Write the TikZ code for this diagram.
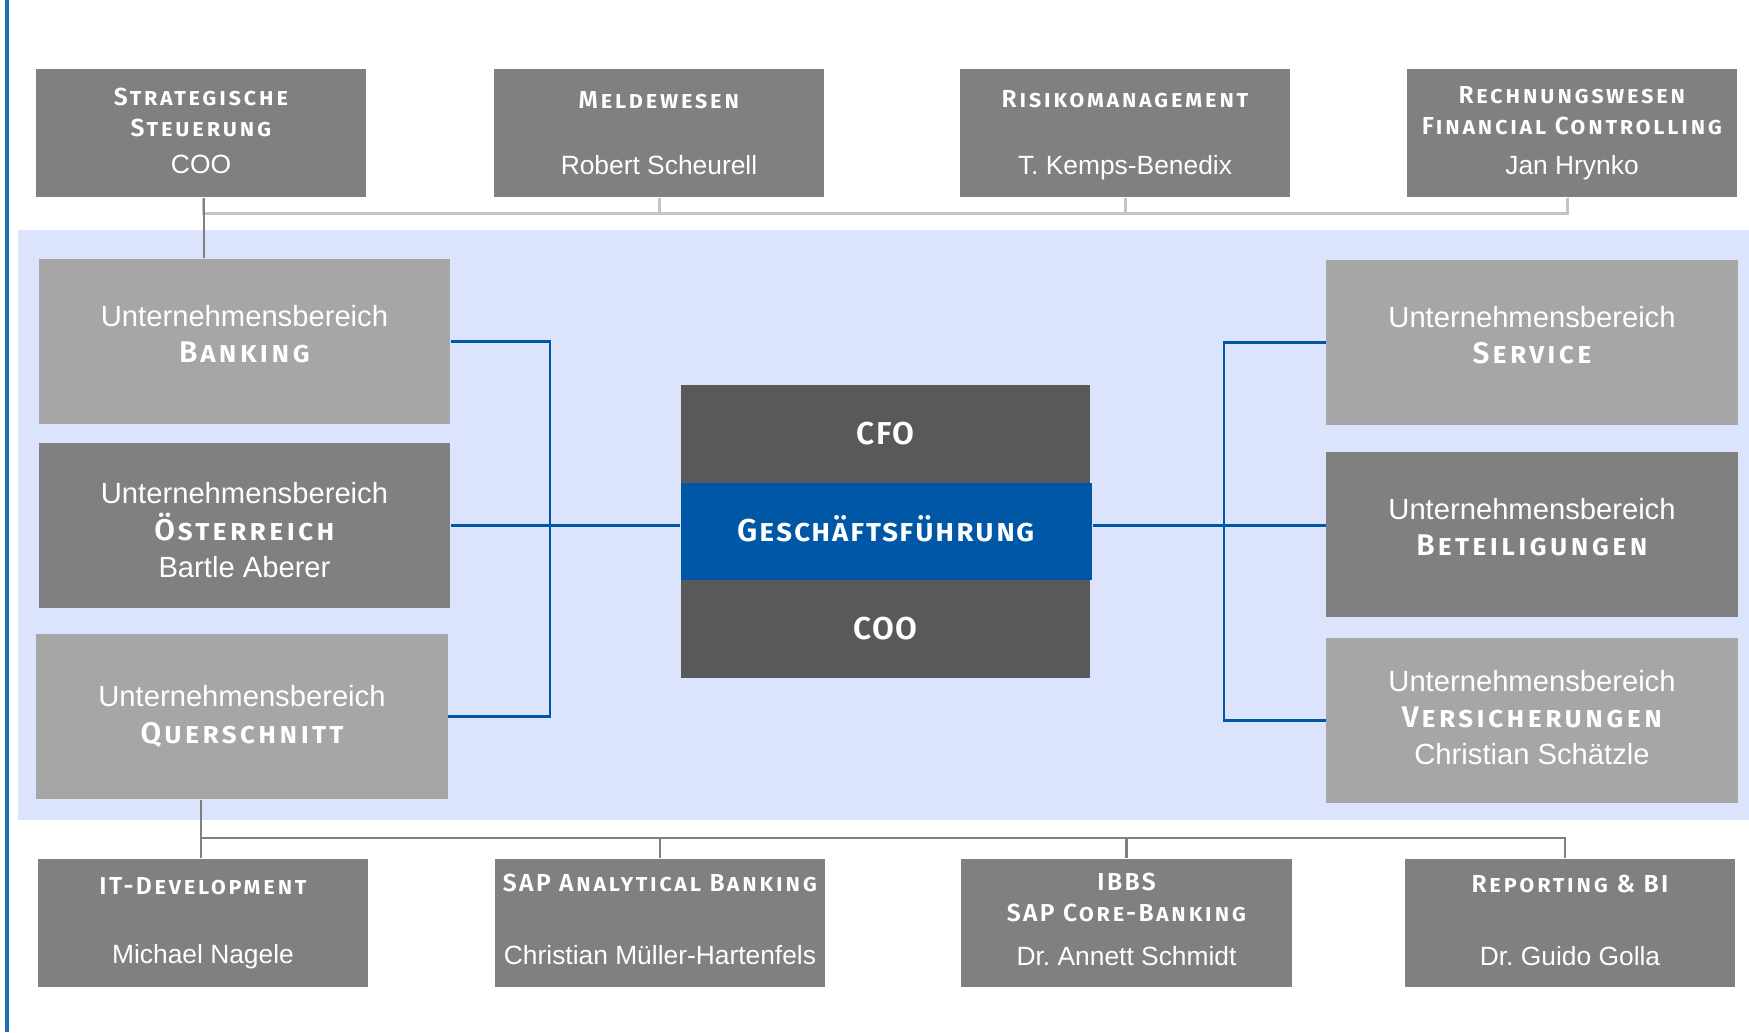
\documentclass[tikz,border=0pt]{standalone}
\usepackage{fontspec}
\setmainfont{Liberation Sans}
\newfontfamily\headfont[Letters=SmallCaps, LetterSpace=10, BoldFont={Fira Sans SemiBold}]{Fira Sans}
\newfontfamily\leadfont[Letters=SmallCaps, LetterSpace=5, BoldFont={Fira Sans SemiBold}]{Fira Sans}
\usepackage{xcolor}
\usetikzlibrary{calc}
\frenchspacing

\definecolor{boxgray}{HTML}{808080}
\definecolor{unitgray}{HTML}{A6A6A6}
\definecolor{leadgray}{HTML}{595959}
\definecolor{leadblue}{HTML}{0057A6}
\definecolor{areablue}{HTML}{DCE3FC}
\definecolor{staffgray}{HTML}{C3C3C3}
\definecolor{itgray}{HTML}{7F7F7F}
\definecolor{barblue}{HTML}{1F6DB4}

\newcommand{\tophead}[1]{{\headfont\bfseries\fontsize{7}{8}\selectfont #1}}
\newcommand{\unithead}[1]{{\headfont\bfseries\fontsize{8.5}{9}\selectfont #1}}
\newcommand{\leadhead}[1]{{\leadfont\bfseries\fontsize{9}{10}\selectfont #1}}
% invisible struts to move a text block up or down in its box
\newcommand{\lift}[1]{\rule[-#1]{0pt}{#1}}
\newcommand{\drop}[1]{\rule{0pt}{#1}}

\tikzset{
  staffbox/.style={rectangle, fill=boxgray, text=white, align=center, inner sep=0pt,
    minimum width=3.3cm, minimum height=1.28cm, font=\fontsize{7.5}{8.8}\selectfont},
  unitbox/.style={rectangle, text=white, align=center, inner sep=0pt,
    minimum width=4.11cm, minimum height=1.65cm, font=\fontsize{8.3}{10.4}\selectfont},
  leadbox/.style={rectangle, text=white, align=center, inner sep=0pt,
    minimum width=4.09cm, minimum height=0.98cm},
  staffline/.style={staffgray, line width=0.85pt},
  itline/.style={itgray, line width=0.7pt},
  unitline/.style={leadblue, line width=0.6pt}
}

\begin{document}
\begin{tikzpicture}[x=0.01cm, y=-0.01cm]
            \useasboundingbox (0,0) rectangle (1749,1032);
            
            % Drawing left margin bar
            \draw [barblue, line width=0.9pt] (7,0) -- (7,1032);%
            
            % Drawing area of the business units
            \fill [areablue] (18,230) rectangle (1749,820);%
            
            % Marking staff units on top
            \node (strat) at (201,133) [staffbox] {\tophead{Strategische}\\\tophead{Steuerung}\\[1.7pt]COO\lift{1.3pt}};%
            \node (meld) at (659,133) [staffbox] {\tophead{Meldewesen}\\[10pt]Robert Scheurell};%
            \node (risk) at (1125,133) [staffbox] {\drop{6.1pt}\tophead{Risikomanagement}\\[10pt]T. Kemps-Benedix};%
            \node (rech) at (1572,133) [staffbox] {\tophead{Rechnungswesen}\\\tophead{Financial Controlling}\\[2.6pt]Jan Hrynko};%
            
            % Marking business units, left
            \node (bank) at (244.5,341.5) [unitbox, fill=unitgray] {Unternehmensbereich\\\unithead{Banking}\lift{4.4pt}};%
            \node (oest) at (244.5,525.5) [unitbox, fill=boxgray] {\drop{8.6pt}Unternehmensbereich\\\unithead{Österreich}\\Bartle Aberer};%
            \node (quer) at (242,716.5) [unitbox, fill=unitgray] {Unternehmensbereich\\\unithead{Querschnitt}};%
            
            % Marking business units, right
            \node (serv) at (1532,342.5) [unitbox, fill=unitgray] {Unternehmensbereich\\\unithead{Service}\lift{4.4pt}};%
            \node (beteil) at (1532,534.5) [unitbox, fill=boxgray] {Unternehmensbereich\\\unithead{Beteiligungen}\lift{4.4pt}};%
            \node (vers) at (1532,720.5) [unitbox, fill=unitgray] {Unternehmensbereich\\\unithead{Versicherungen}\\Christian Schätzle\lift{2pt}};%
            
            % Marking management
            \node (cfo) at (885.5,434) [leadbox, fill=leadgray] {\leadhead{CFO}};%
            \node (gf) at (886.5,531.5) [leadbox, fill=leadblue, minimum width=4.11cm, minimum height=0.97cm] {\leadhead{Geschäftsführung}\lift{1.9pt}};%
            \node (coo) at (885.5,629) [leadbox, fill=leadgray] {\leadhead{COO}};%
            
            % Marking IT units at the bottom
            \node (itdev) at (203,923) [staffbox] {\tophead{IT-Development}\\[10.8pt]Michael Nagele};%
            \node (sapab) at (660,923) [staffbox] {\tophead{SAP Analytical Banking}\\[11.75pt]Christian Müller-Hartenfels\lift{2.15pt}};%
            \node (ibbs) at (1126.5,923) [staffbox] {\tophead{IBBS}\\\tophead{SAP Core-Banking}\\[3.7pt]Dr. Annett Schmidt\lift{2.3pt}};%
            \node (report) at (1570,923) [staffbox] {\tophead{Reporting \& BI}\\[11.75pt]Dr. Guido Golla\lift{1.6pt}};%
            
            % Drawing staff line
            \coordinate (topbus) at (0,213);%
            \coordinate (stratfoot) at ([xshift=0.85pt]strat.south);%
            \coordinate (rechfoot) at ([xshift=-1.4pt]rech.south);%
            \draw [staffline] (stratfoot) |- (rechfoot |- topbus) -- (rechfoot);%
            \draw [staffline] (meld.south) -- (meld.south |- topbus);%
            \draw [staffline] (risk.south) -- (risk.south |- topbus);%
            \draw [itline] (stratfoot) -- (stratfoot |- bank.north);%
            
            % Drawing lines to the business units
            \coordinate (lbus) at (550,0);%
            \coordinate (rbus) at (1224,0);%
            \draw [unitline] (bank.east) -| (lbus |- quer.east) -- (quer.east);%
            \draw [unitline] (oest.east) -- (oest.east -| gf.west);%
            \draw [unitline] (serv.west) -| (rbus |- vers.west) -- (vers.west);%
            \draw [unitline] (oest.east -| gf.east) -- (oest.east -| beteil.west);%
            
            % Drawing IT line
            \coordinate (botbus) at (0,838);%
            \coordinate (ithead) at ([xshift=-0.6pt]itdev.north);%
            \coordinate (reporthead) at ([xshift=-1.4pt]report.north);%
            \draw [itline] (quer.south -| ithead) -- (ithead);%
            \draw [itline] (ithead |- botbus) -| (reporthead);%
            \draw [itline] (sapab.north |- botbus) -- (sapab.north);%
            \draw [itline] (ibbs.north |- botbus) -- (ibbs.north);%
\end{tikzpicture}
\end{document}
